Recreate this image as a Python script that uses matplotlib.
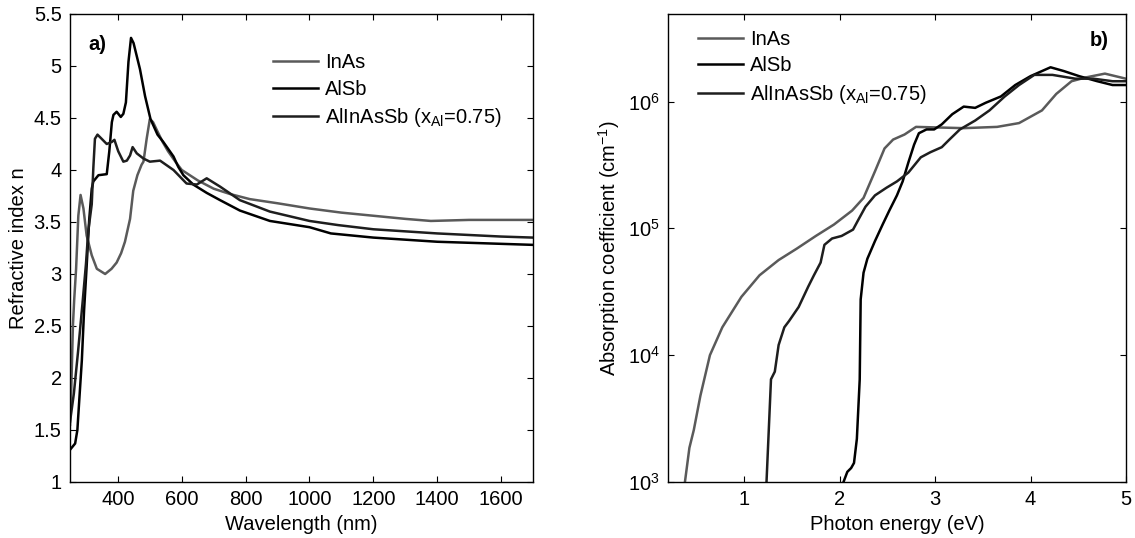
import numpy as np
import matplotlib
matplotlib.use('Agg')
import matplotlib.pyplot as plt
from matplotlib.ticker import FormatStrFormatter, NullLocator

plt.rcParams['font.family'] = ['Liberation Sans', 'DejaVu Sans']
plt.rcParams['mathtext.fontset'] = 'custom'
plt.rcParams['mathtext.rm'] = 'Liberation Sans'
plt.rcParams['mathtext.it'] = 'Liberation Sans:italic'
plt.rcParams['font.size'] = 14.5

# (a) 折射率 n vs 波长 (nm)
wl_inas = [250, 254, 259, 263, 269, 276, 283, 292, 302, 318, 334, 360, 380, 396, 410,
           422, 438, 448, 461, 474, 480, 490, 500, 510, 524, 540, 557, 580, 600, 650,
           700, 750, 813, 900, 1000, 1100, 1200, 1300, 1380, 1500, 1700]
n_inas = [1.55, 1.9, 2.5, 2.75, 3.05, 3.56, 3.76, 3.63, 3.37, 3.18, 3.05, 3.0, 3.05, 3.11, 3.2,
          3.31, 3.53, 3.8, 3.95, 4.05, 4.08, 4.3, 4.49, 4.46, 4.37, 4.27, 4.18, 4.08, 4.0, 3.9,
          3.82, 3.77, 3.72, 3.68, 3.63, 3.59, 3.56, 3.53, 3.51, 3.52, 3.52]

wl_alsb = [250, 266, 273, 279, 287, 294, 302, 310, 318, 323, 339, 365, 373, 381, 386,
           396, 409, 417, 425, 433, 441, 449, 469, 485, 502, 524, 542, 574, 589, 605,
           636, 678, 720, 782, 876, 1000, 1067, 1200, 1400, 1600, 1700]
n_alsb = [1.31, 1.37, 1.5, 1.79, 2.17, 2.65, 3.07, 3.52, 3.82, 3.89, 3.95, 3.96, 4.18, 4.46, 4.53,
          4.56, 4.51, 4.54, 4.65, 5.04, 5.27, 5.22, 4.97, 4.71, 4.49, 4.34, 4.27, 4.13, 4.03, 3.95,
          3.86, 3.78, 3.71, 3.61, 3.51, 3.45, 3.39, 3.35, 3.31, 3.29, 3.28]

wl_alinassb = [250, 262, 275, 290, 300, 307, 318, 323, 328, 336, 349, 365, 381, 389, 401,
               417, 428, 438, 446, 459, 480, 500, 532, 574, 615, 647, 678, 720, 782, 876,
               1000, 1090, 1200, 1400, 1600, 1700]
n_alinassb = [1.58, 1.85, 2.25, 2.75, 3.1, 3.41, 3.67, 4.02, 4.3, 4.34, 4.3, 4.25, 4.27, 4.29, 4.18,
              4.08, 4.09, 4.14, 4.22, 4.16, 4.11, 4.08, 4.09, 4.0, 3.87, 3.86, 3.92, 3.84, 3.71, 3.6,
              3.51, 3.47, 3.43, 3.39, 3.36, 3.35]

# (b) 吸收系数 (cm^-1) vs 光子能量 (eV)，取 log10
e_inas = [0.378, 0.425, 0.471, 0.54, 0.64, 0.77, 0.97, 1.16, 1.36, 1.55, 1.75, 1.94, 2.13, 2.25,
          2.37, 2.47, 2.56, 2.68, 2.80, 3.30, 3.65, 3.88, 4.12, 4.27, 4.43, 4.58, 4.78, 5.0]
lg_inas = [3.0, 3.27, 3.41, 3.68, 4.0, 4.22, 4.46, 4.63, 4.75, 4.84, 4.94, 5.03, 5.14, 5.24,
           5.45, 5.63, 5.70, 5.74, 5.80, 5.79, 5.80, 5.83, 5.93, 6.06, 6.16, 6.19, 6.22, 6.18]

e_alinassb = [1.233, 1.28, 1.32, 1.36, 1.42, 1.47, 1.57, 1.67, 1.73, 1.80, 1.84, 1.92, 2.02, 2.14,
              2.19, 2.27, 2.37, 2.49, 2.60, 2.72, 2.85, 2.95, 3.07, 3.15, 3.26, 3.42, 3.57, 3.73,
              3.88, 4.04, 4.23, 4.47, 4.66, 4.86, 5.0]
lg_alinassb = [3.0, 3.81, 3.87, 4.08, 4.22, 4.27, 4.38, 4.54, 4.63, 4.73, 4.87, 4.92, 4.94, 4.99,
               5.06, 5.17, 5.26, 5.32, 5.37, 5.44, 5.56, 5.60, 5.64, 5.70, 5.78, 5.85, 5.93, 6.04,
               6.13, 6.21, 6.21, 6.18, 6.18, 6.16, 6.16]

e_alsb = [2.04, 2.08, 2.12, 2.15, 2.18, 2.21, 2.22, 2.25, 2.29, 2.37, 2.45, 2.52, 2.60, 2.66,
          2.72, 2.78, 2.83, 2.91, 2.99, 3.07, 3.18, 3.30, 3.42, 3.53, 3.69, 3.84, 4.00, 4.12,
          4.21, 4.35, 4.51, 4.70, 4.86, 5.0]
lg_alsb = [3.0, 3.08, 3.11, 3.15, 3.34, 3.81, 4.44, 4.65, 4.76, 4.90, 5.03, 5.14, 5.26, 5.37,
           5.52, 5.66, 5.75, 5.78, 5.78, 5.82, 5.90, 5.96, 5.95, 5.99, 6.04, 6.13, 6.20, 6.24,
           6.27, 6.24, 6.20, 6.16, 6.13, 6.13]

labels = ['InAs', 'AlSb', r'AlInAsSb (x$_{\mathrm{Al}}$=0.75)']
colors = ['#5a5a5a', '#000000', '#1e1e1e']

fig = plt.figure(figsize=(11.35, 5.38), dpi=100)
ax1 = fig.add_axes([0.0617, 0.1041, 0.4079, 0.8699])
ax2 = fig.add_axes([0.5885, 0.1041, 0.4035, 0.8699])

ax1.plot(wl_inas, n_inas, color=colors[0], lw=1.8, label=labels[0])
ax1.plot(wl_alsb, n_alsb, color=colors[1], lw=1.8, label=labels[1])
ax1.plot(wl_alinassb, n_alinassb, color=colors[2], lw=1.8, label=labels[2])
ax1.set_xlim(250, 1700)
ax1.set_ylim(1, 5.5)
ax1.set_xticks(np.arange(400, 1700, 200))
ax1.set_yticks(np.arange(1, 5.51, 0.5))
ax1.yaxis.set_major_formatter(FormatStrFormatter('%g'))
ax1.set_xlabel('Wavelength (nm)', labelpad=4)
ax1.set_ylabel('Refractive index n', labelpad=4)
ax1.text(0.04, 0.935, 'a)', transform=ax1.transAxes, fontweight='bold',
         va='center')
ax1.legend(loc='upper left', bbox_to_anchor=(0.40, 0.955), frameon=False,
           handlelength=2.2, handletextpad=0.35, labelspacing=0.38)

ax2.semilogy(e_inas, 10 ** np.array(lg_inas), color=colors[0], lw=1.8, label=labels[0])
ax2.semilogy(e_alsb, 10 ** np.array(lg_alsb), color=colors[1], lw=1.8, label=labels[1])
ax2.semilogy(e_alinassb, 10 ** np.array(lg_alinassb), color=colors[2], lw=1.8, label=labels[2])
ax2.set_xlim(0.2, 5)
ax2.set_ylim(1e3, 4.9e6)
ax2.set_xticks([1, 2, 3, 4, 5])
ax2.set_yticks([1e3, 1e4, 1e5, 1e6])
ax2.yaxis.set_minor_locator(NullLocator())
ax2.set_xlabel('Photon energy (eV)', labelpad=4)
ax2.set_ylabel('Absorption coefficient (cm$^{-1}$)', labelpad=4)
ax2.text(0.92, 0.944, 'b)', transform=ax2.transAxes, fontweight='bold',
         va='center')
ax2.legend(loc='upper left', bbox_to_anchor=(0.027, 1.005), frameon=False,
           handlelength=2.2, handletextpad=0.35, labelspacing=0.38)

for ax in (ax1, ax2):
    ax.tick_params(direction='in', top=True, right=True, length=4, width=0.8, pad=6)
    for s in ax.spines.values():
        s.set_linewidth(1.0)

fig.savefig('out.png', dpi=100)
